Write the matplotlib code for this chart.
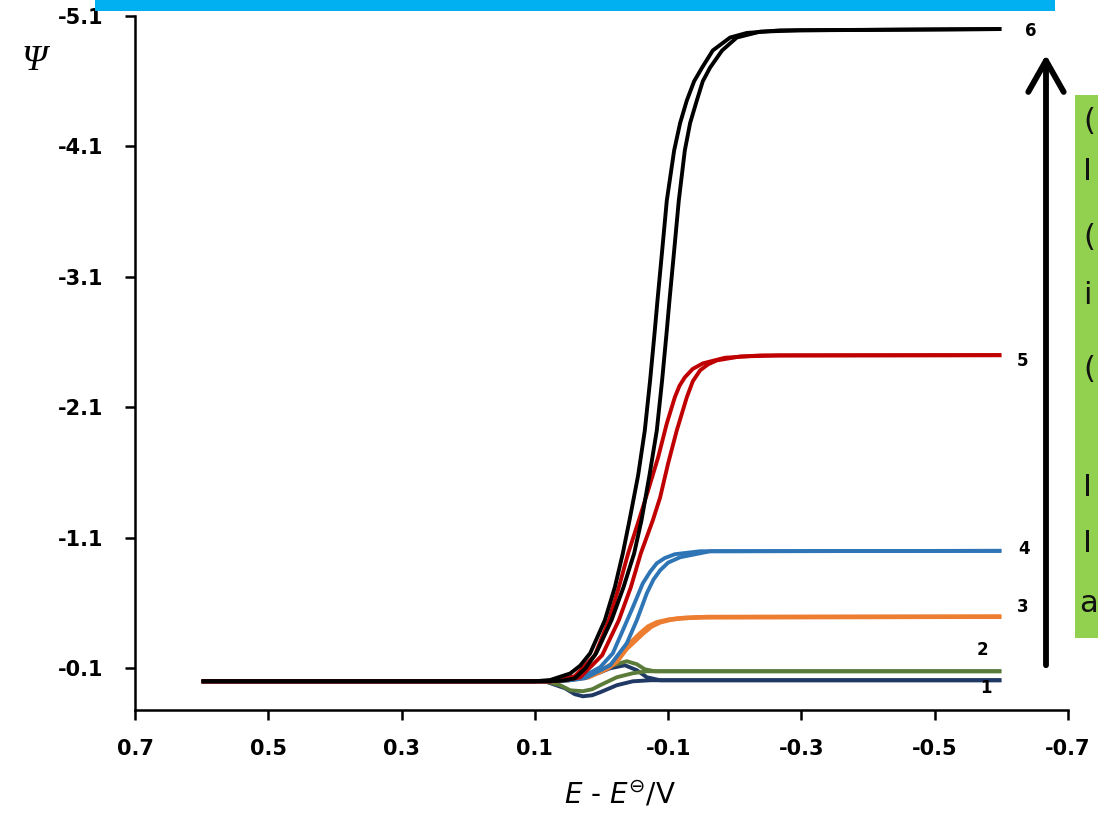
import matplotlib.pyplot as plt
from matplotlib.patches import Rectangle, FancyArrowPatch

plt.rcParams['font.family'] = 'DejaVu Sans'

W, H = 1098, 815

# E - E0 / V and Psi, two branches (a, b) for each curve
e1a = [0.6, 0.085, 0.055, 0.040, 0.028, 0.014, 0.002, -0.023, -0.047, -0.073, -0.6]
psi1a = [0, 0, 0.053, 0.099, 0.115, 0.107, 0.084, 0.030, 0.0, -0.008, -0.008]
e1b = [0.6, 0.070, 0.017, -0.013, -0.035, -0.053, -0.068, -0.088, -0.6]
psi1b = [0, 0, -0.039, -0.100, -0.123, -0.085, -0.031, -0.008, -0.008]

e2a = [0.6, 0.085, 0.062, 0.047, 0.028, 0.014, 0.002, -0.023, -0.047, -0.068, -0.6]
psi2a = [0, 0, 0.030, 0.069, 0.076, 0.061, 0.030, -0.031, -0.062, -0.077, -0.077]
e2b = [0.6, 0.075, 0.037, 0.002, -0.017, -0.038, -0.053, -0.065, -0.080, -0.6]
psi2b = [0, 0, -0.023, -0.069, -0.123, -0.154, -0.131, -0.092, -0.077, -0.077]

e3a = [0.6, 0.077, 0.050, 0.025, -0.005, -0.017, -0.032, -0.058, -0.070, -0.083, -0.100,
       -0.118, -0.148, -0.6]
psi3a = [0, 0, -0.01, -0.03, -0.10, -0.138, -0.238, -0.368, -0.42, -0.452, -0.472,
         -0.483, -0.491, -0.495]
e3b = [0.6, 0.077, 0.048, 0.020, -0.010, -0.023, -0.038, -0.063, -0.075, -0.088, -0.105,
       -0.123, -0.160, -0.6]
psi3b = [0, 0, -0.01, -0.03, -0.10, -0.15, -0.25, -0.37, -0.42, -0.452, -0.474,
         -0.485, -0.493, -0.495]

e4a = [0.6, 0.077, 0.052, 0.032, 0.002, -0.017, -0.032, -0.047, -0.062, -0.073, -0.083,
       -0.095, -0.110, -0.148, -0.6]
psi4a = [0, 0, -0.008, -0.023, -0.108, -0.215, -0.391, -0.567, -0.751, -0.84, -0.905,
         -0.945, -0.974, -0.997, -1.0]
e4b = [0.6, 0.077, 0.050, 0.025, -0.013, -0.038, -0.053, -0.068, -0.078, -0.088, -0.100,
       -0.118, -0.163, -0.6]
psi4b = [0, 0, -0.006, -0.023, -0.123, -0.292, -0.468, -0.675, -0.78, -0.851, -0.91,
         -0.951, -0.997, -1.0]

e5a = [0.6, 0.077, 0.060, 0.040, 0.010, -0.011, -0.026, -0.040, -0.056, -0.070, -0.085,
       -0.098, -0.110, -0.117, -0.125, -0.137, -0.152, -0.185, -0.238, -0.6]
psi5a = [0, 0, -0.012, -0.04, -0.20, -0.468, -0.721, -0.981, -1.234, -1.464, -1.717,
         -1.977, -2.177, -2.265, -2.33, -2.395, -2.437, -2.48, -2.498, -2.5]
e5b = [0.6, 0.077, 0.055, 0.032, -0.001, -0.026, -0.044, -0.059, -0.077, -0.088, -0.100,
       -0.113, -0.128, -0.137, -0.148, -0.160, -0.173, -0.208, -0.268, -0.6]
psi5b = [0, 0, -0.01, -0.03, -0.20, -0.468, -0.721, -0.981, -1.234, -1.41, -1.671,
         -1.924, -2.177, -2.30, -2.384, -2.43, -2.46, -2.49, -2.498, -2.5]

e6a = [0.6, 0.10, 0.077, 0.047, 0.032, 0.017, -0.005, -0.020, -0.032, -0.042, -0.055,
       -0.065, -0.073, -0.080, -0.084, -0.091, -0.098, -0.109, -0.118, -0.128, -0.139,
       -0.151, -0.167, -0.193, -0.218, -0.268, -0.6]
psi6a = [0, 0, -0.01, -0.06, -0.12, -0.215, -0.468, -0.721, -0.981, -1.234, -1.58,
         -1.924, -2.31, -2.69, -2.92, -3.30, -3.686, -4.069, -4.28, -4.452, -4.60,
         -4.705, -4.836, -4.935, -4.97, -4.99, -5.0]
e6b = [0.6, 0.077, 0.058, 0.040, 0.024, 0.008, -0.015, -0.033, -0.049, -0.060, -0.072,
       -0.083, -0.091, -0.098, -0.102, -0.109, -0.116, -0.125, -0.133, -0.143, -0.152,
       -0.163, -0.181, -0.203, -0.238, -0.298, -0.6]
psi6b = [0, 0, -0.006, -0.023, -0.10, -0.215, -0.468, -0.721, -0.981, -1.234, -1.58,
         -1.924, -2.31, -2.69, -2.92, -3.30, -3.686, -4.069, -4.28, -4.452, -4.60,
         -4.705, -4.836, -4.935, -4.98, -4.99, -5.0]

curves = [
    (e1a, psi1a, e1b, psi1b, '#1F3864', 2.8),
    (e2a, psi2a, e2b, psi2b, '#5B7B3B', 2.8),
    (e3a, psi3a, e3b, psi3b, '#ED7D31', 3.2),
    (e4a, psi4a, e4b, psi4b, '#2E75B6', 2.8),
    (e5a, psi5a, e5b, psi5b, '#C00000', 2.8),
    (e6a, psi6a, e6b, psi6b, '#000000', 2.8),
]

xticks = [0.7, 0.5, 0.3, 0.1, -0.1, -0.3, -0.5, -0.7]
yticks = [-5.1, -4.1, -3.1, -2.1, -1.1, -0.1]

# curve number labels (pixel positions)
num_labels = ['6', '5', '4', '3', '2', '1']
num_pos = [(1031, 31), (1022, 361), (1024, 549), (1023, 607), (982, 650), (986, 688)]


def fx(x):
    return x / W


def fy(y):
    return 1 - y / H


fig = plt.figure(figsize=(W / 100, H / 100), dpi=100)
ax = fig.add_axes([fx(135), fy(710), fx(1068) - fx(135), fy(16) - fy(710)])

for ea, pa, eb, pb, c, lw in curves:
    ax.plot(ea, pa, color=c, lw=lw, solid_capstyle='butt', solid_joinstyle='round')
    ax.plot(eb, pb, color=c, lw=lw, solid_capstyle='butt', solid_joinstyle='round')

ax.set_xlim(0.7, -0.7)
ax.set_ylim(0.22, -5.1)
ax.set_xticks(xticks)
ax.set_xticklabels([f'{t:.1f}' for t in xticks])
ax.set_yticks(yticks)
ax.set_yticklabels([f'{t:.1f}' for t in yticks])
for s in ['top', 'right']:
    ax.spines[s].set_visible(False)
for s in ['left', 'bottom']:
    ax.spines[s].set_linewidth(1.8)
ax.tick_params(axis='both', direction='out', length=7, width=1.8, labelsize=15)
ax.tick_params(axis='y', pad=16)
ax.tick_params(axis='x', pad=14)
for lab in ax.get_xticklabels() + ax.get_yticklabels():
    lab.set_fontweight('bold')

fig.text(fx(620), fy(795), r'$E$ - $E^{\ominus}$/V', fontsize=20, ha='center', va='center')
fig.text(fx(34), fy(62), 'Ψ', fontsize=26, family='Liberation Serif', style='italic',
         ha='center', va='center')

for t, (x, y) in zip(num_labels, num_pos):
    fig.text(fx(x), fy(y), t, fontsize=12, fontweight='bold', ha='center', va='center')

# top cyan bar and cropped green box on the right
fig.add_artist(Rectangle((fx(95), fy(11)), fx(1055) - fx(95), fy(0) - fy(11),
                         transform=fig.transFigure, color='#00B0F0', lw=0))
fig.add_artist(Rectangle((fx(1075), fy(638)), fx(1110) - fx(1075), fy(95) - fy(638),
                         transform=fig.transFigure, color='#92D050', lw=0))
box_txt = ['(', 'I', '(', 'i', '(', 'I', 'I', 'a']
box_y = [121, 172, 238, 296, 369, 487, 543, 604]
box_x = [1083, 1083, 1083, 1083, 1083, 1083, 1083, 1079]
for t, x, y in zip(box_txt, box_x, box_y):
    fig.text(fx(x), fy(y), t, fontsize=22, ha='left', va='center', color='#111111')

arrow = FancyArrowPatch((fx(1046), fy(668)), (fx(1046), fy(52)), transform=fig.transFigure,
                        arrowstyle='->,head_length=1.5,head_width=0.85', mutation_scale=15,
                        lw=4.2, color='black')
fig.add_artist(arrow)

fig.savefig('out.png', dpi=100)
